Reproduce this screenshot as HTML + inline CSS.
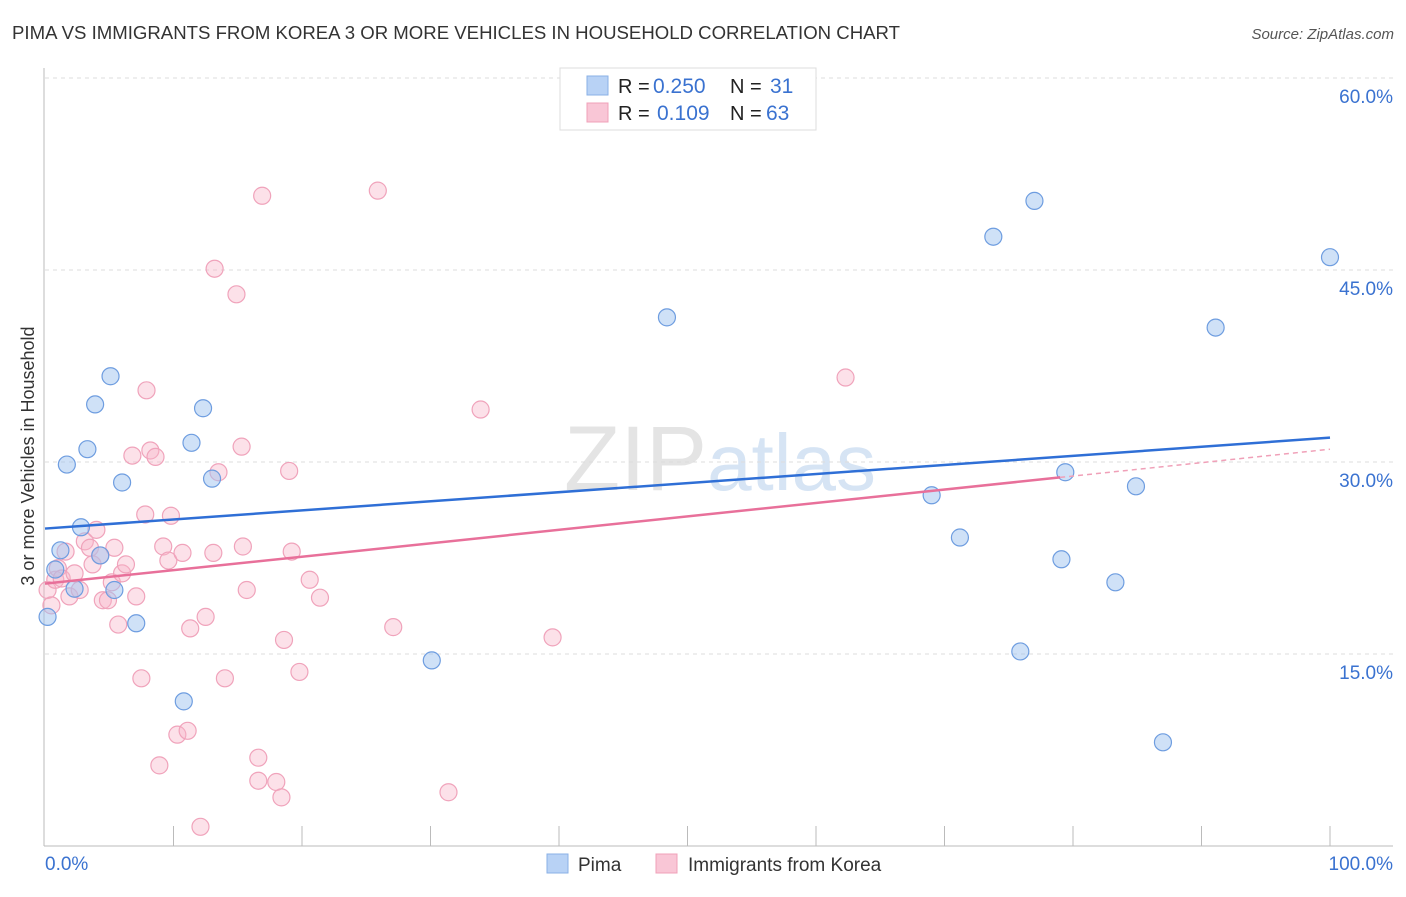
<!DOCTYPE html>
<html><head><meta charset="utf-8"><style>
body{margin:0;background:#fff;font-family:"Liberation Sans",sans-serif}
svg text{font-family:"Liberation Sans",sans-serif}
</style></head><body>
<svg id="c" width="1406" height="892">
<text x="12" y="39" font-size="18" fill="#333" textLength="888" lengthAdjust="spacingAndGlyphs">PIMA VS IMMIGRANTS FROM KOREA 3 OR MORE VEHICLES IN HOUSEHOLD CORRELATION CHART</text>
<text x="1394" y="39" font-size="15" fill="#555" font-style="italic" text-anchor="end">Source: ZipAtlas.com</text>
<text x="720" y="490" font-size="92" fill="#e4e4e4" text-anchor="middle" font-family="Liberation Serif">ZIP<tspan fill="#d6e4f4" font-family="Liberation Sans" font-size="80">atlas</tspan></text>
<text transform="translate(34,456) rotate(-90)" font-size="18" fill="#333" text-anchor="middle">3 or more Vehicles in Household</text>
<g id="grid"></g><g id="pts"></g><g id="lines"></g>
<g>
<rect x="560" y="68" width="256" height="62" fill="#fff" stroke="#ddd"/>
<rect x="587" y="76" width="21" height="19" fill="#b8d2f5" stroke="#8ab0e6"/>
<rect x="587" y="103" width="21" height="19" fill="#f9c6d6" stroke="#f0a0b8"/>
<text x="618" y="93" font-size="20" fill="#222">R =</text>
<text x="653" y="93" font-size="21" fill="#3a72d0">0.250</text>
<text x="730" y="93" font-size="20" fill="#222">N =</text>
<text x="770" y="93" font-size="21" fill="#3a72d0">31</text>
<text x="618" y="120" font-size="20" fill="#222">R =</text>
<text x="657" y="120" font-size="21" fill="#3a72d0">0.109</text>
<text x="730" y="120" font-size="20" fill="#222">N =</text>
<text x="766" y="120" font-size="21" fill="#3a72d0">63</text>
</g>
<g>
<rect x="547" y="854" width="21" height="19" fill="#b8d2f5" stroke="#8ab0e6"/>
<text x="578" y="871" font-size="19" fill="#333">Pima</text>
<rect x="656" y="854" width="21" height="19" fill="#f9c6d6" stroke="#f0a0b8"/>
<text x="688" y="871" font-size="19" fill="#333">Immigrants from Korea</text>
</g>
<text x="45" y="870" font-size="19" fill="#3a72d0">0.0%</text>
<text x="1393" y="870" font-size="19" fill="#3a72d0" text-anchor="end">100.0%</text>
</svg>
<script>
const blueX=[0.2,0.8,1.2,1.7,2.3,2.8,3.3,3.9,4.3,5.1,5.4,6.0,7.1,10.8,11.4,12.3,13.0,30.1,48.4,69.0,71.2,73.8,75.9,77.0,79.1,79.4,83.3,84.9,87.0,91.1,100];
const blueY=[17.9,21.6,23.1,29.8,20.1,24.9,31.0,34.5,22.7,36.7,20.0,28.4,17.4,11.3,31.5,34.2,28.7,14.5,41.3,27.4,24.1,47.6,15.2,50.4,22.4,29.2,20.6,28.1,8.1,40.5,46.0];
const pinkX=[0.2,0.5,0.8,1.0,1.3,1.6,1.9,2.3,2.7,3.1,3.5,3.7,4.0,4.3,4.5,4.9,5.2,5.4,5.7,6.0,6.3,6.8,7.1,7.5,7.8,7.9,8.2,8.6,8.9,9.2,9.6,9.8,10.3,10.7,11.1,11.3,12.1,12.5,13.1,13.2,13.5,14.0,14.9,15.3,15.4,15.7,16.6,16.6,16.9,18.0,18.4,18.6,19.0,19.2,19.8,20.6,21.4,25.9,27.1,31.4,33.9,39.5,62.3];
const pinkY=[20.0,18.8,20.8,21.7,20.9,23.0,19.5,21.3,20.0,23.8,23.3,22.0,24.7,22.7,19.2,19.2,20.6,23.3,17.3,21.3,22.0,30.5,19.5,13.1,25.9,35.6,30.9,30.4,6.3,23.4,22.3,25.8,8.7,22.9,9.0,17.0,1.5,17.9,22.9,45.1,29.2,13.1,43.1,31.2,23.4,20.0,6.9,5.1,50.8,5.0,3.8,16.1,29.3,23.0,13.6,20.8,19.4,51.2,17.1,4.2,34.1,16.3,36.6];
const yTicks=[15,30,45,60];
const yTickLabels=["15.0%","30.0%","45.0%","60.0%"];
const xTicks=[10,20,30,40,50,60,70,80,90,100];
const blueTrend=[24.8,31.9];
const pinkTrend=[20.5,31.0];
const pinkSolidEnd=79;
const NS="http://www.w3.org/2000/svg";
const sx=v=>45+v*12.85, sy=v=>846-v*12.8;
function mk(p,t,a){const e=document.createElementNS(NS,t);for(const k in a)e.setAttribute(k,a[k]);p.appendChild(e);return e;}
const g=document.getElementById('grid');
yTicks.forEach((t,i)=>{
 const l=mk(g,'line',{x1:45,x2:1393,y1:sy(t),y2:sy(t),stroke:'#ddd','stroke-dasharray':'4,4'});
 
 
 const tx=mk(g,'text',{x:1393,y:sy(t)+25,'font-size':19,fill:'#3a72d0','text-anchor':'end'});
 tx.textContent=yTickLabels[i];
 
 
});
mk(g,'line',{x1:44,x2:44,y1:68,y2:846,stroke:'#bbb'});
mk(g,'line',{x1:44,x2:1393,y1:846,y2:846,stroke:'#bbb'});
xTicks.forEach(t=>{
 const l=mk(g,'line',{x1:sx(t),x2:sx(t),y1:826,y2:846,stroke:'#bbb'});
 
 
});
const p=document.getElementById('pts');
pinkX.forEach((x,i)=>{
 const c=mk(p,'circle',{cx:sx(x),cy:sy(pinkY[i]),r:8.5,fill:'rgba(248,180,200,0.4)',stroke:'#f0a3bb','stroke-width':1.2});
 
 
});
blueX.forEach((x,i)=>{
 const c=mk(p,'circle',{cx:sx(x),cy:sy(blueY[i]),r:8.5,fill:'rgba(160,195,240,0.5)',stroke:'#6e9de0','stroke-width':1.2});
 
 
});
const L=document.getElementById('lines');
const bl=mk(L,'line',{x1:sx(0),y1:sy(blueTrend[0]),x2:sx(100),y2:sy(blueTrend[1]),stroke:'#2f6fd6','stroke-width':2.5});


const py=v=>pinkTrend[0]+(pinkTrend[1]-pinkTrend[0])*v/100;
const pl=mk(L,'line',{x1:sx(0),y1:sy(py(0)),x2:sx(pinkSolidEnd),y2:sy(py(pinkSolidEnd)),stroke:'#e8709a','stroke-width':2.5});


const pd=mk(L,'line',{x1:sx(pinkSolidEnd),y1:sy(py(pinkSolidEnd)),x2:sx(100),y2:sy(py(100)),stroke:'#f0a0b8','stroke-width':1.5,'stroke-dasharray':'5,4'});


</script>
</body></html>
